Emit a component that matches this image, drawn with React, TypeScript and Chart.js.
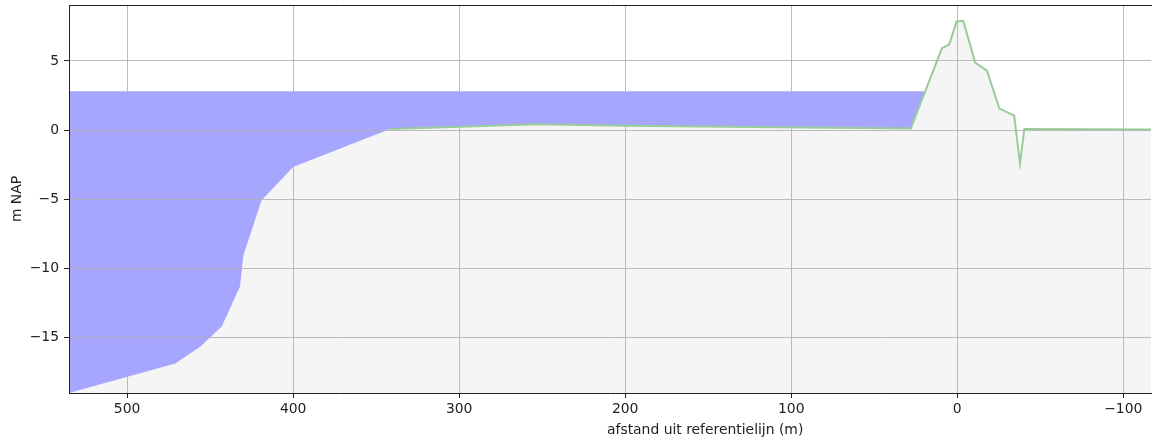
import { useEffect, useRef } from 'react';
import { Chart, registerables } from 'chart.js';

Chart.register(...registerables);

// Bed / dike profile (distance from reference line in m, height in m NAP)
const bedX = [535, 471, 456, 443, 432, 430, 419, 400, 341.6, 253, 200, 107, 28, 9.2, 4.8, 0.4, -3.6, -10.8, -17.9, -25.3, -34.3, -37.8, -40.4, -116.7];
const bedY = [-19, -16.86, -15.65, -14.2, -11.3, -9.06, -5.07, -2.66, 0.07, 0.43, 0.31, 0.2, 0.12, 5.92, 6.2, 7.85, 7.9, 4.88, 4.3, 1.57, 1.04, -2.41, 0.07, 0.05];
// index from which the measured (green) profile line is drawn
const lineStart = 8;

// Water level
const waterX = [535, 19.4];
const waterY = [2.8, 2.8];

// Axes
const xMin = -116.7;
const xMax = 535;
const yMin = -19;
const yMax = 9.04;
const xTicks = [500, 400, 300, 200, 100, 0, -100];
const yTicks = [-15, -10, -5, 0, 5];

const xTitle = 'afstand uit referentielijn (m)';
const yTitle = 'm NAP';

const fmt = (v: number) => String(v).replace('-', '\u2212');

const noPad = (s: any) => {
  s.paddingTop = 0;
  s.paddingBottom = 0;
  s.paddingLeft = 0;
  s.paddingRight = 0;
};

export default function App() {
  const ref = useRef<HTMLCanvasElement>(null);

  useEffect(() => {
    if (!ref.current) return;
    const pts = (xs: number[], ys: number[]) => xs.map((x, i) => ({ x, y: ys[i] }));
    const font = { family: 'DejaVu Sans', size: 13.9 };
    const textColor = '#222';
    const gridColor = 'rgba(176,176,176,0.85)';

    const chart = new Chart(ref.current, {
      type: 'line',
      data: {
        datasets: [
          {
            label: 'profiel',
            data: pts(bedX.slice(lineStart), bedY.slice(lineStart)),
            borderColor: '#99cc99',
            borderWidth: 2,
            pointRadius: 0,
            fill: false,
            tension: 0,
          },
          {
            label: 'water',
            data: pts(waterX, waterY),
            borderColor: 'rgba(0,0,0,0)',
            borderWidth: 0,
            backgroundColor: 'rgba(0,0,255,0.35)',
            pointRadius: 0,
            fill: 2,
            tension: 0,
          },
          {
            label: 'bodem',
            data: pts(bedX, bedY),
            borderColor: 'rgba(0,0,0,0)',
            borderWidth: 0,
            backgroundColor: '#f5f5f5',
            pointRadius: 0,
            fill: 'start',
            tension: 0,
          },
        ],
      },
      options: {
        animation: false,
        responsive: false,
        events: [],
        layout: { padding: { top: 5, right: 6, left: 0, bottom: 0 } },
        plugins: {
          legend: { display: false },
          tooltip: { enabled: false },
        },
        scales: {
          x: {
            type: 'linear',
            min: xMin,
            max: xMax,
            reverse: true,
            afterBuildTicks: (s: any) => {
              s.ticks = xTicks.map((v) => ({ value: v }));
            },
            afterFit: (s: any) => {
              s.height = 44;
              noPad(s);
            },
            grid: {
              color: gridColor,
              lineWidth: 1,
              drawTicks: true,
              tickLength: 5,
              tickColor: textColor,
              tickWidth: 1,
              z: 1,
            },
            border: { display: true, color: textColor, width: 1, z: 1 },
            ticks: {
              font,
              color: textColor,
              padding: 3,
              maxRotation: 0,
              autoSkip: false,
              z: 1,
              callback: (v: any) => fmt(Number(v)),
            },
          },
          xTop: {
            type: 'linear',
            position: 'top',
            min: xMin,
            max: xMax,
            reverse: true,
            afterFit: (s: any) => {
              s.height = 0;
              noPad(s);
            },
            grid: { display: false, drawTicks: false },
            ticks: { display: false },
            border: { display: true, color: textColor, width: 1, z: 1 },
          },
          y: {
            type: 'linear',
            min: yMin,
            max: yMax,
            afterBuildTicks: (s: any) => {
              s.ticks = yTicks.map((v) => ({ value: v }));
            },
            afterFit: (s: any) => {
              s.width = 69;
              noPad(s);
            },
            title: {
              display: true,
              text: yTitle,
              font,
              color: textColor,
              padding: { top: 9, bottom: 0 },
            },
            grid: {
              color: gridColor,
              lineWidth: 1,
              drawTicks: true,
              tickLength: 5,
              tickColor: textColor,
              tickWidth: 1,
              z: 1,
            },
            border: { display: true, color: textColor, width: 1, z: 1 },
            ticks: {
              font,
              color: textColor,
              padding: 5,
              autoSkip: false,
              z: 1,
              callback: (v: any) => fmt(Number(v)),
            },
          },
        },
      } as any,
    });
    return () => chart.destroy();
  }, []);

  return (
    <div style={{ position: 'absolute', left: 0, top: 0, width: 1157, height: 437, background: '#fff' }}>
      <canvas ref={ref} width={1157} height={437} style={{ display: 'block', width: 1157, height: 437 }} />
      <div
        style={{
          position: 'absolute',
          left: 607,
          top: 421,
          font: '13.9px "DejaVu Sans"',
          lineHeight: 'normal',
          color: '#222',
          whiteSpace: 'nowrap',
        }}
      >
        {xTitle}
      </div>
    </div>
  );
}
